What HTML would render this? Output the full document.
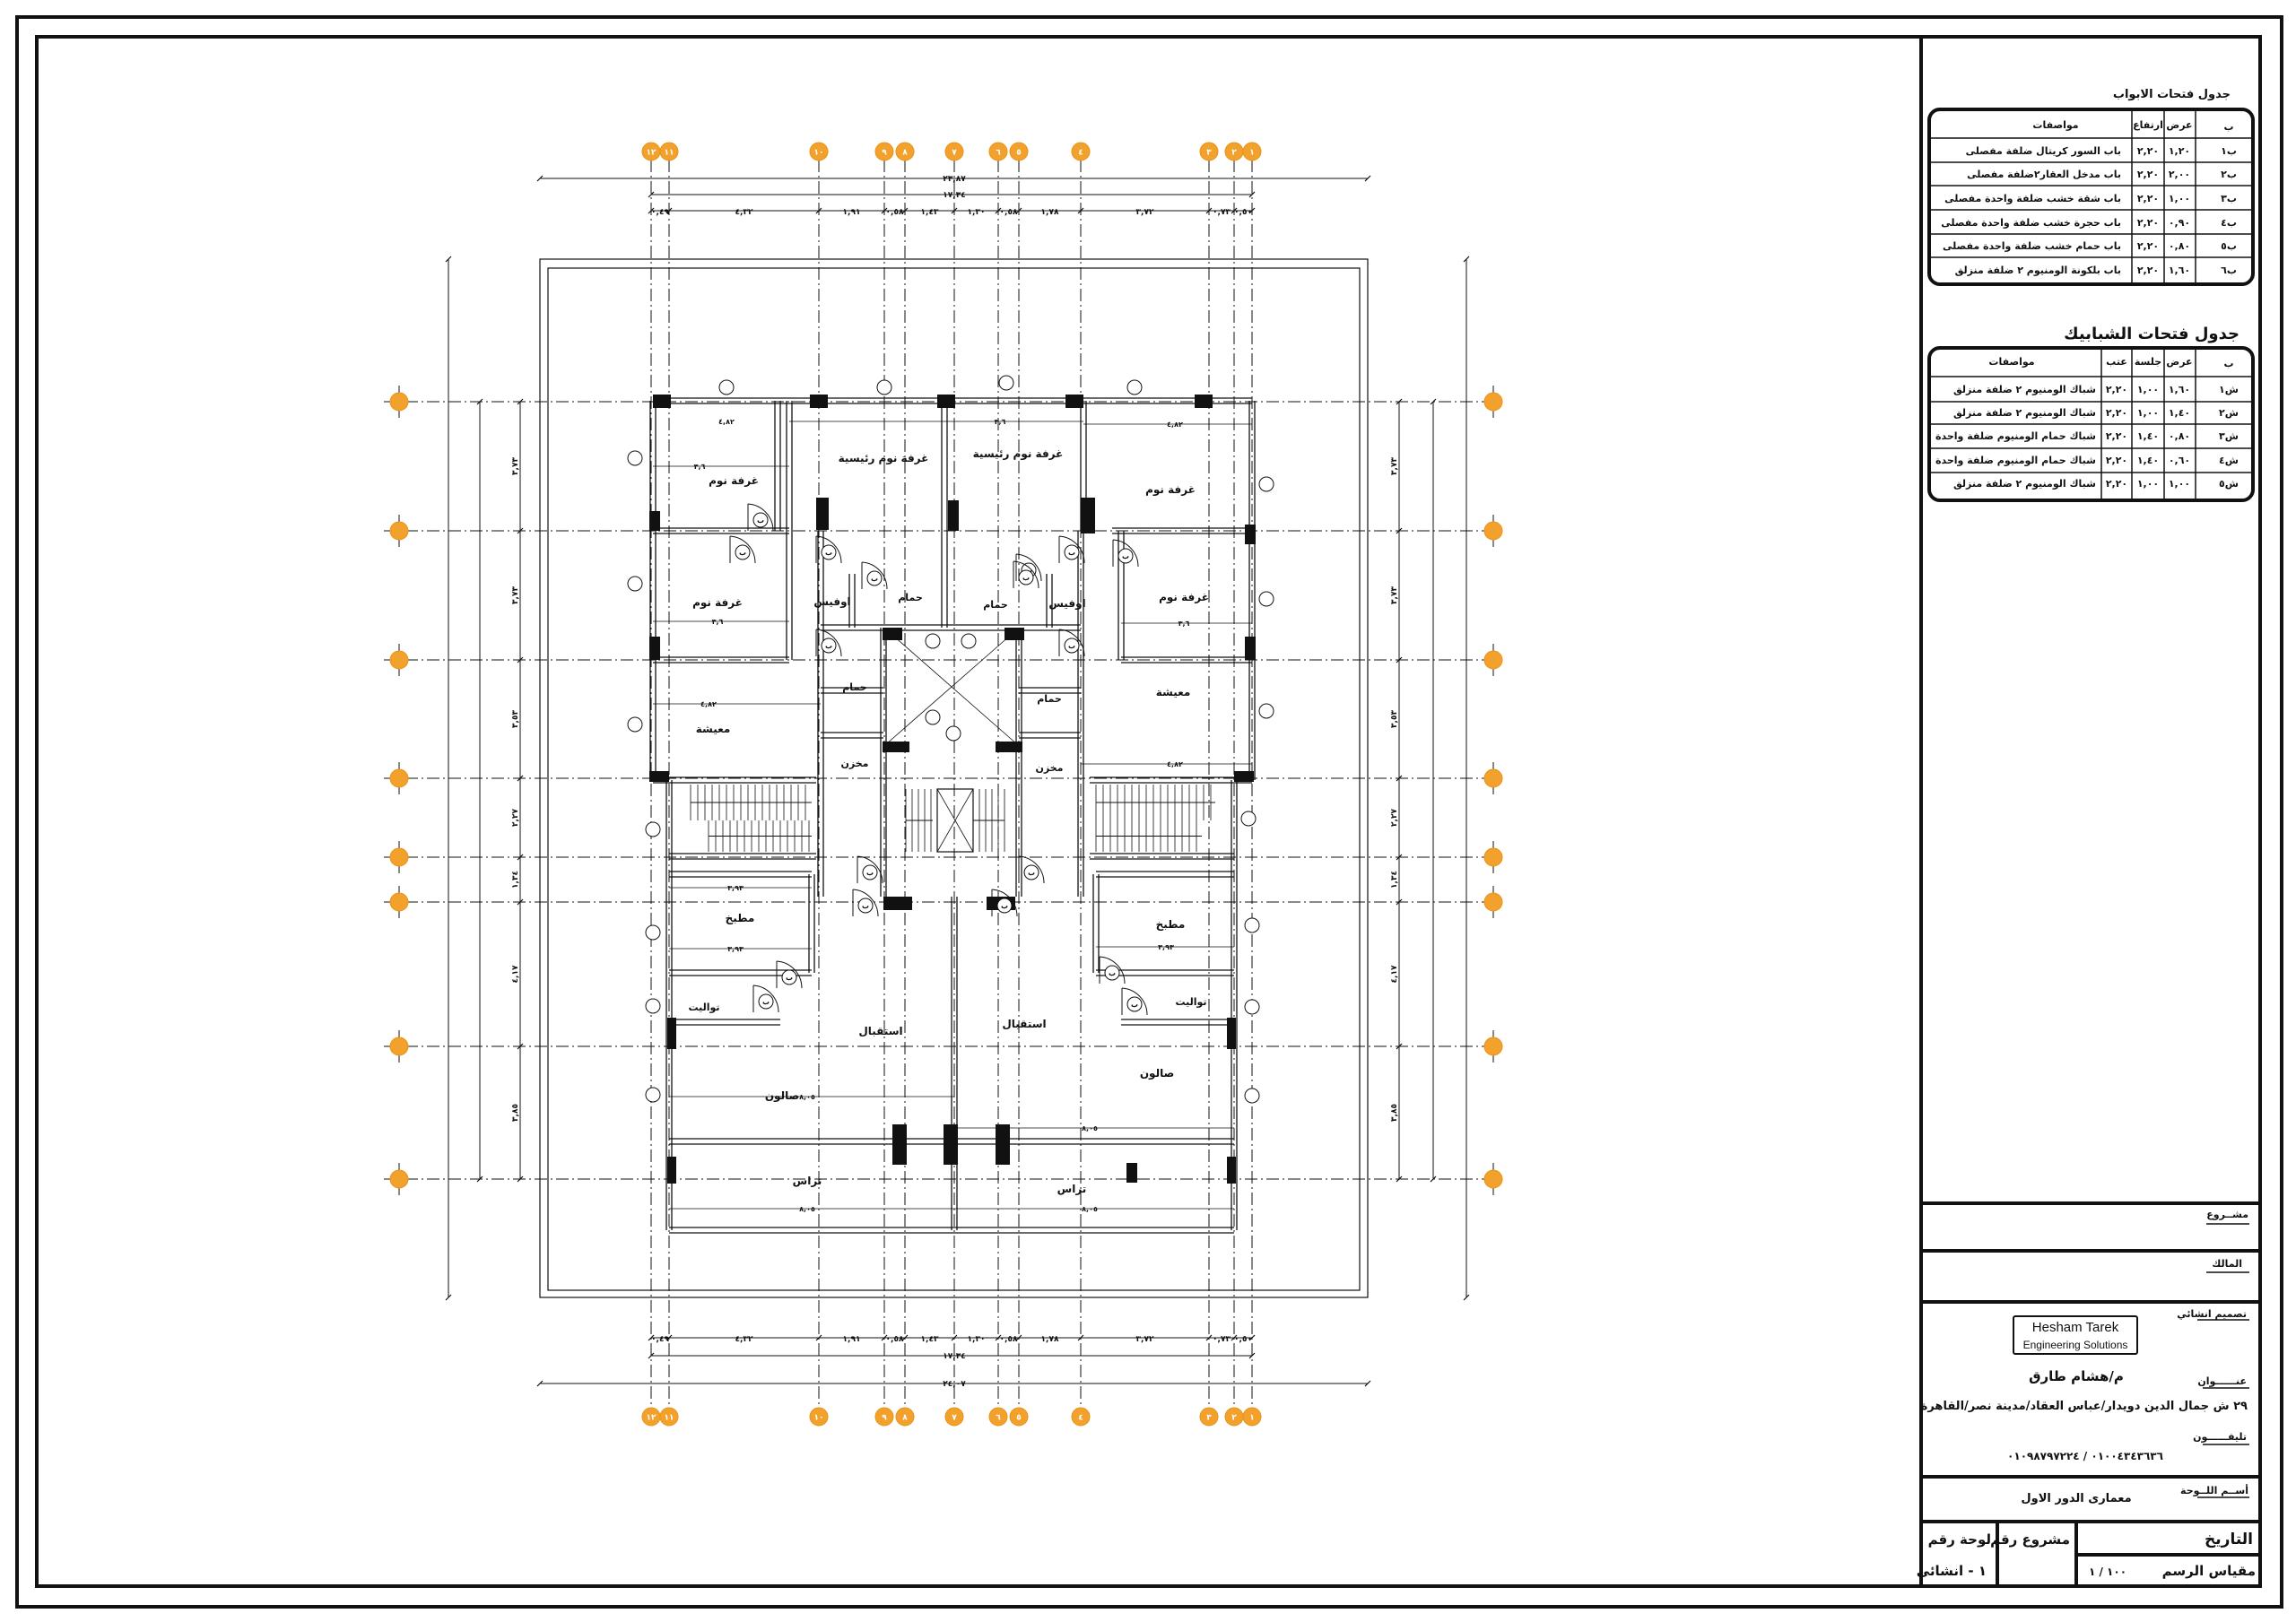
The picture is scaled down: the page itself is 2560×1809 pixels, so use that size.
<!DOCTYPE html>
<html><head><meta charset="utf-8"><style>
html,body{margin:0;padding:0;background:#fff}
svg{display:block}
text{font-family:"DejaVu Sans","Liberation Sans",sans-serif;fill:#111}
</style></head><body>
<svg id="s" width="2560" height="1809" viewBox="0 0 2560 1809" xmlns="http://www.w3.org/2000/svg">
<rect x="19" y="19" width="2525" height="1773" fill="none" stroke="#111" stroke-width="4"/>
<rect x="41" y="41" width="2479" height="1728" fill="none" stroke="#111" stroke-width="4"/>
<line x1="2142" y1="41" x2="2142" y2="1769" stroke="#111" stroke-width="4"/>
<g id="plan"></g>
<g id="tb" font-weight="bold">
<text x="2487" y="109" font-size="13" text-anchor="end">جدول فتحات الابواب</text>
<rect x="2151" y="122" width="361" height="195" rx="12" fill="none" stroke="#111" stroke-width="4"/>
<g stroke="#111" stroke-width="1.5">
<line x1="2377" y1="124" x2="2377" y2="315"/><line x1="2413" y1="124" x2="2413" y2="315"/><line x1="2448" y1="124" x2="2448" y2="315"/>
<line x1="2153" y1="154" x2="2510" y2="154"/><line x1="2153" y1="181" x2="2510" y2="181"/><line x1="2153" y1="207" x2="2510" y2="207"/><line x1="2153" y1="234" x2="2510" y2="234"/><line x1="2153" y1="261" x2="2510" y2="261"/><line x1="2153" y1="287" x2="2510" y2="287"/>
</g>
<g font-size="11">
<text x="2292" y="143" text-anchor="middle">مواصفات</text><text x="2395" y="143" text-anchor="middle">ارتفاع</text><text x="2430" y="143" text-anchor="middle">عرض</text><text x="2485" y="145" text-anchor="middle">ب</text>
<text x="2365" y="172" text-anchor="end">باب السور كريتال ضلفة مفصلى</text>
<text x="2365" y="198" text-anchor="end">باب مدخل العقار٢ضلفة مفصلى</text>
<text x="2365" y="225" text-anchor="end">باب شقة خشب ضلفة واحدة مفصلى</text>
<text x="2365" y="252" text-anchor="end">باب حجرة خشب ضلفة واحدة مفصلى</text>
<text x="2365" y="278" text-anchor="end">باب حمام خشب ضلفة واحدة مفصلى</text>
<text x="2365" y="305" text-anchor="end">باب بلكونة الومنيوم ٢ ضلفة منزلق</text>
<g text-anchor="middle"><text x="2395" y="172">٢,٢٠</text><text x="2395" y="198">٢,٢٠</text><text x="2395" y="225">٢,٢٠</text><text x="2395" y="252">٢,٢٠</text><text x="2395" y="278">٢,٢٠</text><text x="2395" y="305">٢,٢٠</text>
<text x="2430" y="172">١,٢٠</text><text x="2430" y="198">٢,٠٠</text><text x="2430" y="225">١,٠٠</text><text x="2430" y="252">٠,٩٠</text><text x="2430" y="278">٠,٨٠</text><text x="2430" y="305">١,٦٠</text>
<text x="2485" y="172">ب١</text><text x="2485" y="198">ب٢</text><text x="2485" y="225">ب٣</text><text x="2485" y="252">ب٤</text><text x="2485" y="278">ب٥</text><text x="2485" y="305">ب٦</text></g>
</g>
<text x="2497" y="378" font-size="18" text-anchor="end">جدول فتحات الشبابيك</text>
<rect x="2151" y="388" width="361" height="170" rx="12" fill="none" stroke="#111" stroke-width="4"/>
<g stroke="#111" stroke-width="1.5">
<line x1="2343" y1="390" x2="2343" y2="556"/><line x1="2377" y1="390" x2="2377" y2="556"/><line x1="2413" y1="390" x2="2413" y2="556"/><line x1="2448" y1="390" x2="2448" y2="556"/>
<line x1="2153" y1="420" x2="2510" y2="420"/><line x1="2153" y1="448" x2="2510" y2="448"/><line x1="2153" y1="473" x2="2510" y2="473"/><line x1="2153" y1="500" x2="2510" y2="500"/><line x1="2153" y1="527" x2="2510" y2="527"/>
</g>
<g font-size="11">
<text x="2243" y="407" text-anchor="middle">مواصفات</text><text x="2360" y="407" text-anchor="middle">عتب</text><text x="2395" y="407" text-anchor="middle">جلسة</text><text x="2430" y="407" text-anchor="middle">عرض</text><text x="2485" y="409" text-anchor="middle">ب</text>
<text x="2337" y="438" text-anchor="end">شباك الومنيوم ٢ ضلفة منزلق</text>
<text x="2337" y="464" text-anchor="end">شباك الومنيوم ٢ ضلفة منزلق</text>
<text x="2337" y="490" text-anchor="end">شباك حمام الومنيوم ضلفة واحدة</text>
<text x="2337" y="517" text-anchor="end">شباك حمام الومنيوم ضلفة واحدة</text>
<text x="2337" y="543" text-anchor="end">شباك الومنيوم ٢ ضلفة منزلق</text>
<g text-anchor="middle"><text x="2360" y="438">٢,٢٠</text><text x="2360" y="464">٢,٢٠</text><text x="2360" y="490">٢,٢٠</text><text x="2360" y="517">٢,٢٠</text><text x="2360" y="543">٢,٢٠</text>
<text x="2395" y="438">١,٠٠</text><text x="2395" y="464">١,٠٠</text><text x="2395" y="490">١,٤٠</text><text x="2395" y="517">١,٤٠</text><text x="2395" y="543">١,٠٠</text>
<text x="2430" y="438">١,٦٠</text><text x="2430" y="464">١,٤٠</text><text x="2430" y="490">٠,٨٠</text><text x="2430" y="517">٠,٦٠</text><text x="2430" y="543">١,٠٠</text>
<text x="2485" y="438">ش١</text><text x="2485" y="464">ش٢</text><text x="2485" y="490">ش٣</text><text x="2485" y="517">ش٤</text><text x="2485" y="543">ش٥</text></g>
</g>
<g stroke="#111" stroke-width="4">
<line x1="2142" y1="1342" x2="2520" y2="1342"/><line x1="2142" y1="1395" x2="2520" y2="1395"/><line x1="2142" y1="1452" x2="2520" y2="1452"/><line x1="2142" y1="1647" x2="2520" y2="1647"/><line x1="2142" y1="1697" x2="2520" y2="1697"/><line x1="2315" y1="1734" x2="2520" y2="1734"/>
<line x1="2227" y1="1697" x2="2227" y2="1769"/><line x1="2315" y1="1697" x2="2315" y2="1769"/>
</g>
<g font-size="11" text-anchor="end">
<text x="2507" y="1358">مشــروع</text><line x1="2460" y1="1365" x2="2508" y2="1365" stroke="#111" stroke-width="1.5"/>
<text x="2500" y="1413">المالك</text><line x1="2460" y1="1419" x2="2508" y2="1419" stroke="#111" stroke-width="1.5"/>
<text x="2505" y="1469">تصميم انشائي</text><line x1="2450" y1="1472" x2="2508" y2="1472" stroke="#111" stroke-width="1.5"/>
<text x="2505" y="1544">عنــــــوان</text><line x1="2456" y1="1548" x2="2508" y2="1548" stroke="#111" stroke-width="1.5"/>
<text x="2505" y="1606">تليفــــــون</text><line x1="2456" y1="1611" x2="2508" y2="1611" stroke="#111" stroke-width="1.5"/>
<text x="2507" y="1666">أســم اللــوحة</text><line x1="2450" y1="1670" x2="2508" y2="1670" stroke="#111" stroke-width="1.5"/>
</g>
<rect x="2245" y="1468" width="138" height="42" rx="2" fill="#fff" stroke="#111" stroke-width="2"/>
<text x="2314" y="1485" font-size="15" font-weight="normal" text-anchor="middle" style="font-family:'Liberation Sans',sans-serif">Hesham Tarek</text>
<text x="2314" y="1504" font-size="12" font-weight="normal" text-anchor="middle" style="font-family:'Liberation Sans',sans-serif">Engineering Solutions</text>
<text x="2315" y="1540" font-size="15" text-anchor="middle">م/هشام طارق</text>
<text x="2506" y="1572" font-size="13" text-anchor="end">٢٩ ش جمال الدين دويدار/عباس العقاد/مدينة نصر/القاهرة</text>
<text x="2325" y="1628" font-size="12" text-anchor="middle">٠١٠٠٤٣٤٣٦٣٦ / ٠١٠٩٨٧٩٧٢٢٤</text>
<text x="2315" y="1675" font-size="13" text-anchor="middle">معمارى الدور الاول</text>
<text x="2512" y="1722" font-size="17" text-anchor="end">التاريخ</text>
<text x="2515" y="1757" font-size="15" text-anchor="end">مقياس الرسم</text>
<text x="2350" y="1757" font-size="12" text-anchor="middle">١٠٠ / ١</text>
<text x="2308" y="1722" font-size="15" text-anchor="end">مشروع رقم</text>
<text x="2220" y="1722" font-size="15" text-anchor="end">لوحة رقم</text>
<text x="2215" y="1757" font-size="15" text-anchor="end">١ - انشائى</text>
</g>
</svg>
<script>
(function(){
var g=document.getElementById('plan');var h='';
function L(x1,y1,x2,y2,w,extra){h+='<line x1="'+x1+'" y1="'+y1+'" x2="'+x2+'" y2="'+y2+'" stroke="#111" stroke-width="'+(w||1.2)+'" '+(extra||'')+'/>';}
function R(x,y,w,hh,f){h+='<rect x="'+x+'" y="'+y+'" width="'+w+'" height="'+hh+'" fill="'+(f||'none')+'" stroke="#111" stroke-width="1.2"/>';}
function T(x,y,t,s,a){h+='<text x="'+x+'" y="'+y+'" font-size="'+(s||11)+'" font-weight="bold" text-anchor="'+(a||'middle')+'">'+t+'</text>';}
function C(x,y,r){h+='<circle cx="'+x+'" cy="'+y+'" r="'+r+'" fill="#fff" stroke="#111" stroke-width="1"/>';}
var dash='stroke-dasharray="14 4 2 4"';
var GX=[726,746,913,986,1009,1064,1113,1136,1205,1348,1376,1396];
var GY=[448,592,736,868,956,1006,1167,1315];
R(602,289,923,1158);R(611,299,905,1140);
GX.forEach(function(x){L(x,178,x,1571,1,dash);});
GY.forEach(function(y){L(452,y,1658,y,1,dash);});
function dimH(y,xs,labels){L(xs[0],y,xs[xs.length-1],y,1);xs.forEach(function(x,i){L(x-3,y+3,x+3,y-3,1.2);if(i<xs.length-1&&labels){T((x+xs[i+1])/2,y+4,labels[i],9);}});}
function dimV(x,ys,labels){L(x,ys[0],x,ys[ys.length-1],1);ys.forEach(function(y,i){L(x-3,y+3,x+3,y-3,1.2);if(i<ys.length-1&&labels){var m=(y+ys[i+1])/2;h+='<text x="'+(x-3)+'" y="'+m+'" font-size="9" font-weight="bold" text-anchor="middle" transform="rotate(-90 '+(x-3)+' '+m+')">'+labels[i]+'</text>';}});}
var segs=['٠,٤٩','٤,٣٢','١,٩١','٠,٥٨','١,٤٣','١,٣٠','٠,٥٨','١,٧٨','٣,٧٢','٠,٧٣','٠,٥٠'];
dimH(199,[602,1525]);T(1064,202,'٢٣,٨٧',9);
dimH(217,[726,1396]);T(1064,220,'١٧,٣٤',9);
dimH(235,GX,segs);
dimH(1492,GX,segs);
dimH(1512,[726,1396]);T(1064,1515,'١٧,٣٤',9);
dimH(1543,[602,1525]);T(1064,1546,'٢٤,٠٧',9);
var vs=['٣,٧٣','٣,٧٣','٣,٥٣','٢,٢٧','١,٣٤','٤,١٧','٣,٨٥'];
dimV(500,[289,1447]);dimV(535,[448,1315]);dimV(580,GY,vs);
dimV(1635,[289,1447]);dimV(1598,[448,1315]);dimV(1560,GY,vs);
function B(x,y,n){h+='<circle cx="'+x+'" cy="'+y+'" r="10" fill="#f2a22c" stroke="#e8931a" stroke-width="1"/><text x="'+x+'" y="'+(y+3.5)+'" font-size="9" font-weight="bold" text-anchor="middle" style="fill:#fff">'+n+'</text>';}
var nums=['١٢','١١','١٠','٩','٨','٧','٦','٥','٤','٣','٢','١'];
GX.forEach(function(x,i){B(x,169,nums[i]);B(x,1580,nums[i]);});
GY.forEach(function(y,i){L(445,y-18,445,y+18,1);L(1665,y-18,1665,y+18,1);L(428,y,462,y,1);B(445,y,'');B(1665,y,'');});
function W(x1,y1,x2,y2){if(y1==y2){L(x1,y1-3,x2,y2-3,1.3);L(x1,y1+3,x2,y2+3,1.3);}else{L(x1-3,y1,x2-3,y2,1.3);L(x1+3,y1,x2+3,y2,1.3);}}
W(728,447,1396,447);W(728,447,728,870);W(1396,447,1396,870);
W(746,870,746,1372);W(1376,870,1376,1372);W(746,1372,1376,1372);
W(728,870,910,870);W(1215,870,1396,870);
W(728,592,880,592);W(1240,592,1396,592);W(728,736,880,736);W(1250,736,1396,736);
W(880,447,880,592);W(867,447,867,592);W(1053,447,1053,700);W(1208,447,1208,592);
W(880,592,880,736);W(1250,592,1250,736);
W(915,592,915,1000);W(1205,592,1205,1000);
W(950,640,950,700);W(1170,640,1170,700);
W(915,700,1205,700);W(985,700,985,1000);W(1136,700,1136,1000);
W(915,770,985,770);W(1136,770,1205,770);W(915,820,985,820);W(1136,820,1205,820);
W(1064,1000,1064,1372);W(746,1085,905,1085);W(1222,1085,1376,1085);
W(905,975,905,1085);W(1222,975,1222,1085);W(746,975,905,975);W(1222,975,1376,975);
W(746,1140,870,1140);W(1250,1140,1376,1140);W(746,1273,1376,1273);
W(746,955,910,955);W(1215,955,1376,955);
function S(x1,x2,y1,y2,step){for(var x=x1;x<=x2;x+=step)L(x,y1,x,y2,0.8);L(x1,(y1+y2)/2,x2,(y1+y2)/2,1);}
S(770,905,875,915,8);S(790,905,915,950,8);S(1222,1355,875,915,8);S(1222,1340,915,950,8);
S(1010,1040,880,950,7);S(1085,1120,880,950,7);
R(1045,880,40,70);L(1045,880,1085,950,0.8);L(1085,880,1045,950,0.8);
L(988,702,1134,830,0.8);L(1134,702,988,830,0.8);
function K(x,y,w,hh){h+='<rect x="'+x+'" y="'+y+'" width="'+w+'" height="'+hh+'" fill="#111"/>';}
[728,903,1045,1188,1332].forEach(function(x){K(x,440,20,15);});
K(724,570,12,22);K(724,710,12,26);K(724,860,22,12);K(1388,585,12,22);K(1388,710,12,26);K(1376,860,22,12);
K(910,555,14,36);K(1057,558,12,34);K(1205,555,16,40);
K(984,700,22,14);K(1120,700,22,14);K(984,827,30,12);K(1110,827,30,12);
K(985,1000,32,15);K(1100,1000,32,15);
K(744,1135,10,35);K(1368,1135,10,35);K(744,1290,10,30);K(1368,1290,10,30);
K(995,1254,16,45);K(1052,1254,16,45);K(1110,1254,16,45);K(1256,1297,12,22);
[[828,616],[848,580],[924,616],[975,645],[1147,636],[1195,616],[1255,620],[1144,644],[924,720],[1195,720],[970,973],[1150,973],[880,1090],[854,1117],[1240,1085],[1265,1120],[965,1010],[1120,1010]].forEach(function(p){L(p[0]-14,p[1]-18,p[0]-14,p[1]+12,1);h+='<path d="M'+(p[0]-14)+' '+(p[1]-18)+' A30 30 0 0 1 '+(p[0]+14)+' '+(p[1]+12)+'" fill="none" stroke="#111" stroke-width="1"/>';C(p[0],p[1],8);T(p[0],p[1]+3,'ب',8);});
[[708,511],[708,651],[708,808],[728,925],[728,1040],[728,1122],[728,1221],[1412,540],[1412,668],[1412,793],[1392,913],[1396,1032],[1396,1123],[1396,1222],[810,432],[986,432],[1122,427],[1265,432],[1040,715],[1080,715],[1040,800],[1063,818]].forEach(function(p){C(p[0],p[1],8);});
T(985,515,'غرفة نوم رئيسية',12);T(1135,510,'غرفة نوم رئيسية',12);
T(818,540,'غرفة نوم',12);T(1305,550,'غرفة نوم',12);
T(800,676,'غرفة نوم',12);T(1320,670,'غرفة نوم',12);
T(928,675,'اوفيس',12);T(1190,677,'اوفيس',12);T(1015,670,'حمام',11);T(1110,678,'حمام',11);
T(953,770,'حمام',11);T(1170,783,'حمام',11);
T(795,817,'معيشة',12);T(1308,776,'معيشة',12);
T(953,855,'مخزن',11);T(1170,860,'مخزن',11);
T(825,1028,'مطبخ',12);T(1305,1035,'مطبخ',12);
T(785,1127,'تواليت',11);T(1328,1121,'تواليت',11);
T(982,1154,'استقبال',12);T(1142,1146,'استقبال',12);
T(872,1226,'صالون',12);T(1290,1201,'صالون',12);
T(900,1321,'تراس',12);T(1195,1330,'تراس',12);
[[810,470,'٤,٨٢',880,1053],[1115,470,'٣,٦',1053,1208],[1310,473,'٤,٨٢',1208,1396],[790,785,'٤,٨٢',728,915],[1310,852,'٤,٨٢',1205,1396],[820,990,'٣,٩٣',746,905],[820,1058,'٣,٩٣',746,905],[1300,1056,'٣,٩٣',1222,1376],[900,1223,'٨,٠٥',746,1064],[1215,1258,'٨,٠٥',1064,1376],[900,1348,'٨,٠٥',746,1064],[1215,1348,'٨,٠٥',1064,1376],[780,520,'٣,٦',728,880],[800,693,'٣,٦',728,880],[1320,695,'٣,٦',1250,1396]].forEach(function(d){L(d[3],d[1],d[4],d[1],0.8);T(d[0],d[1]+3,d[2],8);});
g.innerHTML=h;
})();
</script>
</body></html>
